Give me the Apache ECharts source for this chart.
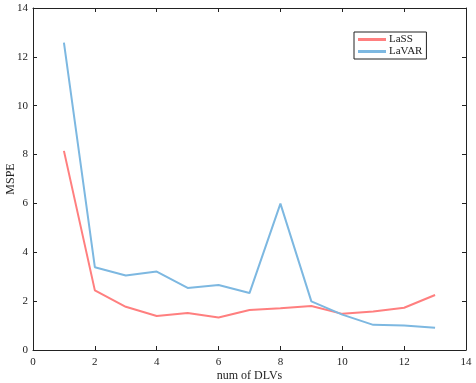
<!DOCTYPE html>
<html>
<head>
<meta charset="utf-8">
<script src="https://cdn.jsdelivr.net/npm/echarts@6/dist/echarts.min.js"></script>
<style>
  html, body { margin: 0; padding: 0; background: #fff; }
  #myChart { width: 476px; height: 383px; }
</style>
</head>
<body>
<div id="myChart"></div>
<script>
// number of DLVs on x
const xValues = [1, 2, 3, 4, 5, 6, 7, 8, 9, 10, 11, 12, 13]
const lassValues = [8.15, 2.44, 1.77, 1.39, 1.51, 1.33, 1.64, 1.71, 1.80, 1.48, 1.58, 1.73, 2.25]
const lavarValues = [12.58, 3.39, 3.05, 3.21, 2.54, 2.66, 2.33, 5.99, 1.99, 1.45, 1.03, 1.00, 0.91]
const seriesNames = ['LaSS', 'LaVAR']

const font = 'Liberation Serif'

function pairs(ys) {
  return xValues.map((x, i) => [x, ys[i]])
}

let myChart = echarts.init(document.getElementById('myChart'))

const axisCommon = {
  min: 0,
  max: 14,
  interval: 2,
  axisLine: {show: true, onZero: false, lineStyle: {color: '#222', width: 1}},
  axisTick: {show: true, inside: true, length: 4, lineStyle: {color: '#222'}},
  splitLine: {show: false}
}

myChart.setOption({
  animation: false,
  grid: {left: 33, right: 10, top: 8, bottom: 33, containLabel: false, outerBoundsMode: 'none'},
  legend: {
    data: seriesNames,
    orient: 'vertical',
    left: 354,
    top: 32,
    padding: [2, 4, 2, 4],
    itemGap: 1,
    itemWidth: 28,
    itemHeight: 3,
    icon: 'rect',
    borderColor: '#222',
    borderWidth: 1,
    borderRadius: 0,
    textStyle: {fontFamily: font, fontSize: 11, color: '#222', padding: [0, 0, 0, -2]}
  },
  xAxis: [
    Object.assign({}, axisCommon, {
      type: 'value',
      position: 'bottom',
      name: 'num of DLVs',
      nameLocation: 'middle',
      nameGap: 20,
      nameMoveOverlap: false,
      nameTextStyle: {fontFamily: font, fontSize: 12, color: '#222'},
      axisLabel: {fontFamily: font, fontSize: 11, color: '#222', margin: 7}
    }),
    Object.assign({}, axisCommon, {
      type: 'value',
      position: 'top',
      axisLabel: {show: false}
    })
  ],
  yAxis: [
    Object.assign({}, axisCommon, {
      type: 'value',
      position: 'left',
      name: 'MSPE',
      nameLocation: 'middle',
      nameGap: 16,
      nameMoveOverlap: false,
      nameTextStyle: {fontFamily: font, fontSize: 12, color: '#222'},
      axisLabel: {fontFamily: font, fontSize: 11, color: '#222', margin: 5}
    }),
    Object.assign({}, axisCommon, {
      type: 'value',
      position: 'right',
      axisLabel: {show: false}
    })
  ],
  series: [
    {
      name: seriesNames[0],
      type: 'line',
      symbol: 'none',
      data: pairs(lassValues),
      itemStyle: {color: '#ff7f7f'},
      lineStyle: {color: '#ff7f7f', width: 2}
    },
    {
      name: seriesNames[1],
      type: 'line',
      symbol: 'none',
      data: pairs(lavarValues),
      itemStyle: {color: '#7db8e1'},
      lineStyle: {color: '#7db8e1', width: 2}
    }
  ]
})
</script>
</body>
</html>
